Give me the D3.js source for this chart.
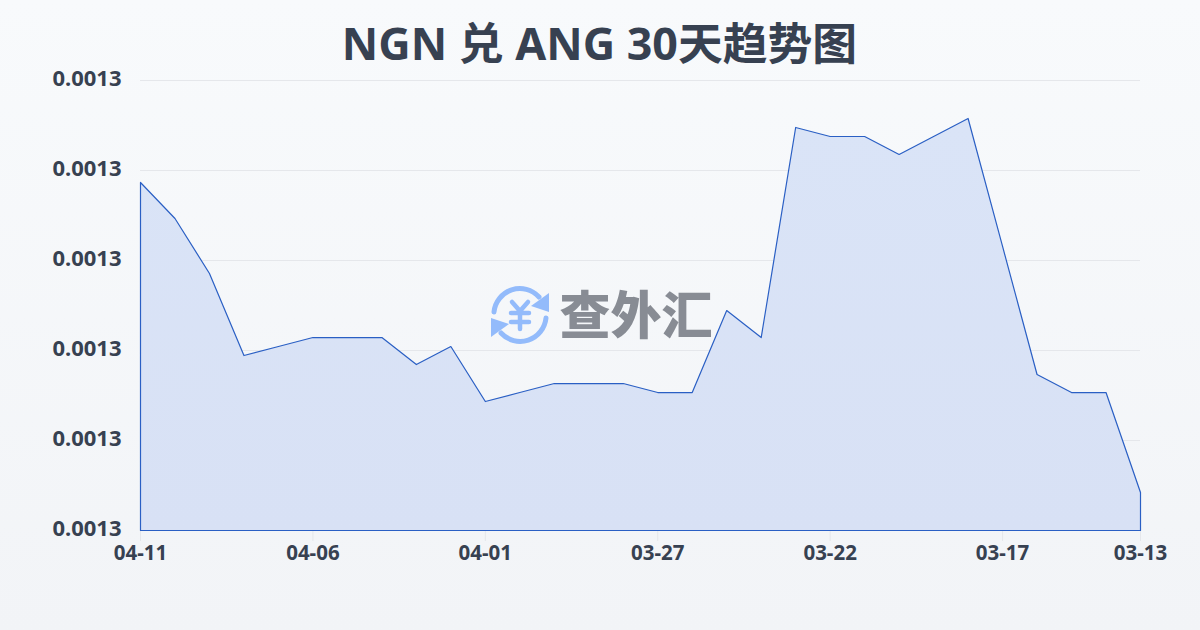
<!DOCTYPE html>
<html><head><meta charset="utf-8">
<script src="https://cdn.jsdelivr.net/npm/d3@7"></script>
<style>html,body{margin:0;padding:0;width:1200px;height:630px;overflow:hidden}</style>
</head><body><svg id="c" width="1200" height="630" xmlns="http://www.w3.org/2000/svg"></svg>
<script>
const titleText = "NGN 兑 ANG 30天趋势图";
const dates = ["04-11","04-10","04-09","04-08","04-07","04-06","04-05","04-04","04-03","04-02","04-01","03-31","03-30","03-29","03-28","03-27","03-26","03-25","03-24","03-23","03-22","03-21","03-20","03-19","03-18","03-17","03-16","03-15","03-14","03-13"];
const rates = [0.00131867,0.00131467,0.00130856,0.00129944,0.00130044,0.00130144,0.00130144,0.00130144,0.00129844,0.00130044,0.00129433,0.00129533,0.00129633,0.00129633,0.00129633,0.00129533,0.00129533,0.00130444,0.00130144,0.00132478,0.00132378,0.00132378,0.00132178,0.00132378,0.00132578,0.00131156,0.00129733,0.00129533,0.00129533,0.00128422];
const xTicks = ["04-11","04-06","04-01","03-27","03-22","03-17","03-13"];
const yTicks = [0.00128,0.00129,0.0013,0.00131,0.00132,0.00133];
const yDomain = [0.00128,0.00133];
const watermark = "查外汇";

const font = '"Noto Sans","Noto Sans CJK SC",sans-serif';
const svg = d3.select("#c");
const defs = svg.append("defs");
const bg = defs.append("linearGradient").attr("id","bg").attr("x1",0).attr("y1",0).attr("x2",0).attr("y2",1);
bg.append("stop").attr("offset","0%").attr("stop-color","#f8fafc");
bg.append("stop").attr("offset","100%").attr("stop-color","#f2f4f7");
const ag = defs.append("linearGradient").attr("id","ag").attr("x1",0).attr("y1",0).attr("x2",0).attr("y2",1);
ag.append("stop").attr("offset","0%").attr("stop-color","#dae4f7");
ag.append("stop").attr("offset","100%").attr("stop-color","#d8e1f5");
svg.append("rect").attr("width",1200).attr("height",630).attr("fill","url(#bg)");

const x = d3.scalePoint().domain(dates).range([140.5,1140.5]);
const y = d3.scaleLinear().domain(yDomain).range([530.5,80.5]);

svg.append("text").attr("x",599.5).attr("y",60).attr("text-anchor","middle")
  .attr("font-family",font).attr("font-weight",700).attr("font-size",44.8).attr("fill","#374151").text(titleText);

svg.append("g").selectAll("line").data(yTicks).join("line")
  .attr("x1",140).attr("x2",1140).attr("y1",d=>y(d)).attr("y2",d=>y(d))
  .attr("stroke","#e5e7eb").attr("stroke-width",1);

svg.append("g").selectAll("text").data(yTicks).join("text")
  .attr("x",121.5).attr("y",d=>y(d)-2).attr("dy","0.36em").attr("text-anchor","end")
  .attr("font-family",font).attr("font-weight",700).attr("font-size",22).attr("fill","#374151")
  .text(d=>d.toFixed(4));

const xg = svg.append("g");
xg.selectAll("line").data(xTicks).join("line")
  .attr("x1",d=>x(d)).attr("x2",d=>x(d)).attr("y1",530).attr("y2",541)
  .attr("stroke","#e5e7eb");
xg.selectAll("text").data(xTicks).join("text")
  .attr("x",d=>x(d)).attr("y",560).attr("text-anchor","middle")
  .attr("font-family",font).attr("font-weight",700).attr("font-size",20.5).attr("fill","#374151")
  .text(d=>d);

const area = d3.area().x((d,i)=>x(dates[i])).y0(530.5).y1(d=>y(d));
svg.append("path").datum(rates).attr("d",area)
  .attr("fill","url(#ag)").attr("stroke","#2a5fc4").attr("stroke-width",1.2).attr("stroke-linejoin","round");

const wm = svg.append("g");
const ic = wm.append("g").attr("transform","translate(520,315)").attr("fill","none").attr("stroke","#93bbfb").attr("stroke-linecap","round");
ic.append("path").attr("stroke-width",5).attr("d","M-26,-3 A26,26 0 0 1 19,-18");
ic.append("path").attr("stroke-width",5).attr("d","M26,3 A26,26 0 0 1 -19,18");
ic.append("path").attr("fill","#93bbfb").attr("stroke","none").attr("d","M29,-22 L29,-3 L11,-9 Z");
ic.append("path").attr("fill","#93bbfb").attr("stroke","none").attr("d","M-29,22 L-29,3 L-11,9 Z");
ic.append("path").attr("stroke-width",4.5).attr("d","M-8,-13 L0,-4 L8,-13 M-9,-2 L9,-2 M-9,7 L9,7 M0,-4 L0,14");
wm.append("text").attr("x",636).attr("y",334).attr("text-anchor","middle")
  .attr("font-family",'"Noto Sans CJK SC",sans-serif').attr("font-weight",900).attr("font-size",51)
  .attr("fill","#888c94").text(watermark);
</script></body></html>
